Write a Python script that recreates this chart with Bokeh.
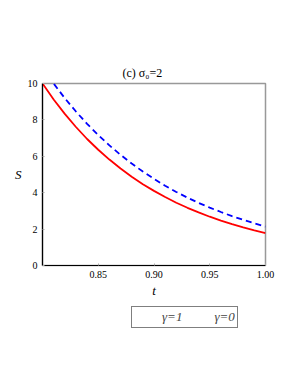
from bokeh.plotting import figure
from bokeh.layouts import column
from bokeh.models import Legend, LegendItem, FixedTicker, Range1d, Title
from bokeh.embed import file_html
from bokeh.resources import INLINE

t_vals = [0.80, 0.81, 0.82, 0.83, 0.84, 0.85, 0.86, 0.87, 0.88, 0.89, 0.90,
          0.91, 0.92, 0.93, 0.94, 0.95, 0.96, 0.97, 0.98, 0.99, 1.00]
s_gamma1 = [10.0, 9.12, 8.33, 7.61, 6.95, 6.36, 5.82, 5.33, 4.88, 4.47, 4.10,
            3.76, 3.45, 3.17, 2.92, 2.68, 2.47, 2.27, 2.09, 1.93, 1.78]
s_gamma0 = [10.88, 10.0, 9.19, 8.46, 7.78, 7.17, 6.60, 6.08, 5.60, 5.16, 4.76,
            4.38, 4.04, 3.73, 3.44, 3.18, 2.94, 2.71, 2.51, 2.32, 2.14]
x_ticks = [0.85, 0.90, 0.95, 1.00]
y_ticks = [0, 2, 4, 6, 8, 10]
title_text = "(c) σ₀=2"
labels = ["γ=1", "γ=0"]

SERIF = "Liberation Serif"
RED = "#ff0000"
BLUE = "#0000ff"

p = figure(frame_width=223, frame_height=182, output_backend="svg", toolbar_location=None,
           x_range=Range1d(0.8, 1.0), y_range=Range1d(0, 10),
           min_border_left=42, min_border_right=15, min_border_top=83,
           min_border_bottom=31)
p.title = Title(text=title_text, align="left", text_font=SERIF,
                text_font_size="12px", text_font_style="normal", offset=80,
                standoff=7, text_color="black")

p.line(t_vals, s_gamma1, line_color=RED, line_width=1.8)
p.line(t_vals, s_gamma0, line_color=BLUE, line_width=1.8, line_dash="6 4")

p.xgrid.visible = False
p.ygrid.visible = False
p.outline_line_color = "#999999"
p.outline_line_width = 1.5
p.background_fill_color = "white"
p.border_fill_color = "white"

for ax in (p.xaxis[0], p.yaxis[0]):
    ax.axis_line_color = "black"
    ax.axis_line_width = 1.2
    ax.major_tick_in = 2
    ax.major_tick_out = 0
    ax.major_tick_line_color = "#aaaaaa"
    ax.minor_tick_line_color = None
    ax.major_label_text_font = SERIF
    ax.major_label_text_font_size = "10px"
    ax.major_label_text_color = "black"
    ax.axis_label_text_font = SERIF
    ax.axis_label_text_font_style = "italic"
    ax.axis_label_text_font_size = "13px"
    ax.axis_label_text_color = "black"

p.xaxis.ticker = FixedTicker(ticks=x_ticks)
p.yaxis.ticker = FixedTicker(ticks=y_ticks)
p.xaxis.major_label_overrides = {v: f"{v:.2f}" for v in x_ticks}
p.xaxis.axis_label = "t"
p.xaxis.axis_label_standoff = 2
p.yaxis.axis_label = "S"
p.yaxis.axis_label_orientation = "horizontal"
p.yaxis.axis_label_standoff = 3

# legend strip below the chart
lg = figure(width=280, height=36, output_backend="svg", toolbar_location=None,
            x_range=Range1d(0, 1), y_range=Range1d(0, 1),
            x_axis_location=None, y_axis_location=None,
            min_border=0, outline_line_color=None)
lg.xgrid.visible = False
lg.ygrid.visible = False
l1 = lg.line([], [], line_color=RED, line_width=1.8)
l0 = lg.line([], [], line_color=BLUE, line_width=1.8, line_dash="6 4")
legend = Legend(items=[LegendItem(label=labels[0], renderers=[l1]),
                       LegendItem(label=labels[1], renderers=[l0])],
                orientation="horizontal", location=(89, 8),
                label_text_font=SERIF, label_text_font_style="italic",
                label_text_font_size="13px", border_line_color="black",
                border_line_width=1, padding=2, spacing=4, margin=0,
                glyph_width=26, label_standoff=2, label_height=14, glyph_height=14,
                background_fill_alpha=1)
lg.add_layout(legend, "center")

layout = column(p, lg, spacing=0)
open("out.html", "w").write(file_html(layout, INLINE))
